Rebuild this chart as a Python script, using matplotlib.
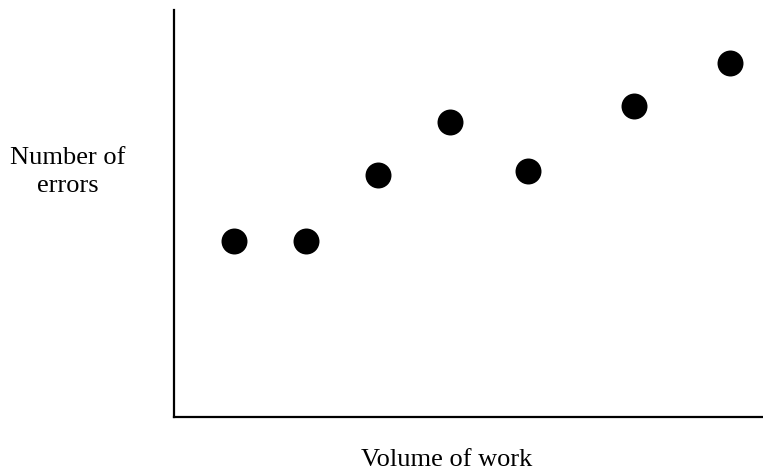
import matplotlib
matplotlib.use("Agg")
import matplotlib.pyplot as plt

# data (arbitrary units)
volume = [10.2, 22.4, 34.6, 46.9, 60.1, 78.1, 94.4]
errors = [43.2, 43.2, 59.5, 72.5, 60.4, 76.4, 87.0]

x_label = "Volume of work"
y_label = "Number of\nerrors"

plt.rcParams['font.family'] = ['Liberation Serif', 'DejaVu Serif']

fig = plt.figure(figsize=(7.63, 4.71), dpi=100)
ax = fig.add_axes([174 / 763, 54 / 471, 589 / 763, 407 / 471])

ax.plot(volume, errors, 'o', color='black', markersize=18.7, markeredgewidth=0)

ax.set_xlim(0, 100)
ax.set_ylim(0, 100)
ax.set_xticks([])
ax.set_yticks([])
for side in ['top', 'right']:
    ax.spines[side].set_visible(False)
for side in ['left', 'bottom']:
    ax.spines[side].set_linewidth(1.6)
    ax.spines[side].set_color('black')

fig.text(447 / 763, 1 - 466 / 471, x_label, ha='center', va='baseline', fontsize=19)
fig.text(68 / 763, 1 - 172 / 471, y_label, ha='center', va='center',
         multialignment='center', fontsize=19, linespacing=1.35)

fig.savefig("out.png", dpi=100)
